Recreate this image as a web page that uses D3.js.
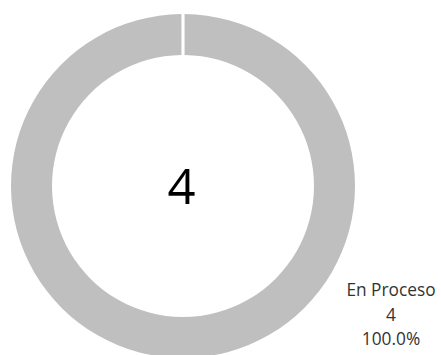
<!DOCTYPE html>
<html>
<head>
<meta charset="utf-8">
<script src="https://cdn.jsdelivr.net/npm/d3@7"></script>
<style>
  html, body { margin: 0; padding: 0; background: #ffffff; }
  svg { display: block; }
</style>
</head>
<body>
<div id="chart"></div>
<script>
const categories = ["En Proceso"];
const values = [4];
const colors = ["#BFBFBF"];
const percentLabels = ["100.0%"];
const totalLabel = "4";

const W = 441, H = 355;
const cx = 183, cy = 186;
const outerR = 172, innerR = 131;

const svg = d3.select("#chart").append("svg")
  .attr("width", W).attr("height", H);

const g = svg.append("g").attr("transform", `translate(${cx},${cy})`);

const pie = d3.pie().sort(null).value(d => d)
  .startAngle(0).endAngle(2 * Math.PI);
const arcs = pie(values);

const arc = d3.arc()
  .innerRadius(innerR)
  .outerRadius(outerR)
  .startAngle(d => d.startAngle)
  .endAngle(d => d.endAngle - 1e-9)
  .padAngle(0.0145);

g.selectAll("path.slice")
  .data(arcs)
  .join("path")
  .attr("class", "slice")
  .attr("d", arc)
  .attr("fill", (d, i) => colors[i]);

// centre total
g.append("text")
  .attr("x", -1.5)
  .attr("y", 17.5)
  .attr("text-anchor", "middle")
  .attr("font-family", "'Open Sans', sans-serif")
  .attr("font-size", 49)
  .attr("fill", "#000000")
  .text(totalLabel);

// data label
const lab = svg.append("g")
  .attr("font-family", "'Open Sans', sans-serif")
  .attr("font-size", 17.3)
  .attr("fill", "#333333")
  .attr("text-anchor", "middle");

arcs.forEach((d, i) => {
  const lines = [categories[i], String(values[i]), percentLabels[i]];
  lines.forEach((t, j) => {
    lab.append("text")
      .attr("x", 391)
      .attr("y", 296 + j * 24.5)
      .text(t);
  });
});
</script>
</body>
</html>
